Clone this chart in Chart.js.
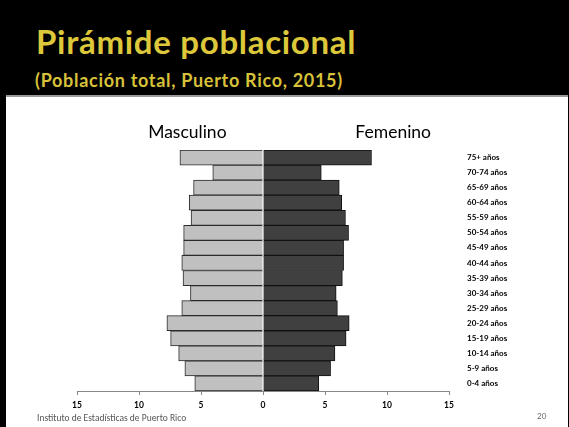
<!DOCTYPE html>
<html>
<head>
<meta charset="utf-8">
<script src="https://cdn.jsdelivr.net/npm/chart.js@4"></script>
<style>
  html, body { margin: 0; padding: 0; }
  body { width: 569px; height: 427px; background: #000; position: relative; overflow: hidden; font-family: Lato, sans-serif; }
  #title { position: absolute; left: 36px; top: 21px; font-size: 33px; letter-spacing: 0.7px; font-weight: bold; color: #dcc83a; line-height: 40px; white-space: nowrap; }
  #subtitle { position: absolute; left: 35px; top: 69px; font-size: 18px; letter-spacing: 0.7px; font-weight: bold; color: #d8c23a; line-height: 22px; white-space: nowrap; }
  #slide { position: absolute; left: 6px; top: 95px; width: 562px; height: 330px; background: #fff; border-top: 2px solid #9a9a9a; }
  #chartBox { position: absolute; left: 0; top: 0; width: 562px; height: 328px; }
  #footer { position: absolute; left: 31px; top: 315px; font-size: 9.5px; color: #555; font-family: Carlito, "Open Sans", sans-serif; }
  #page { position: absolute; left: 531px; top: 314px; font-size: 8px; color: #666; }
</style>
</head>
<body>
<div id="title">Pirámide poblacional</div>
<div id="subtitle">(Población total, Puerto Rico, 2015)</div>
<div id="slide">
  <div id="chartBox"><canvas id="myChart" width="562" height="328"></canvas></div>
  <div id="footer">Instituto de Estadísticas de Puerto Rico</div>
  <div id="page">20</div>
</div>
<script>
const ageGroups = ["75+ años", "70-74 años", "65-69 años", "60-64 años", "55-59 años", "50-54 años",
    "45-49 años", "40-44 años", "35-39 años", "30-34 años", "25-29 años", "20-24 años",
    "15-19 años", "10-14 años", "5-9 años", "0-4 años"];
const sexes = ["Masculino", "Femenino"];
// percent of total population
const male = [6.7, 4.05, 5.6, 5.95, 5.8, 6.4, 6.4, 6.55, 6.45, 5.85, 6.55, 7.75, 7.45, 6.8, 6.3, 5.5];
const female = [8.75, 4.7, 6.15, 6.35, 6.65, 6.9, 6.5, 6.5, 6.4, 5.9, 6.0, 6.95, 6.7, 5.8, 5.45, 4.5];
const xTicks = [-15, -10, -5, 0, 5, 10, 15];

window.onload = () => {
    const sideLabels = {
        id: "sideLabels",
        afterDraw(chart) {
            const ctx = chart.ctx;
            const x = chart.scales.x;
            ctx.save();
            ctx.font = "17.5px Lato";
            ctx.fillStyle = "#000";
            ctx.textAlign = "center";
            ctx.textBaseline = "middle";
            ctx.fillText(sexes[0], x.getPixelForValue(-6.1), 35);
            ctx.fillText(sexes[1], x.getPixelForValue(10.5), 35);
            ctx.restore();
        }
    };

    const data = {
        labels: ageGroups,
        datasets: [{
            label: sexes[0],
            data: male.map(v => -v),
            backgroundColor: "#c0c0c0",
            borderColor: "#2a2a2a",
            borderWidth: 1
        }, {
            label: sexes[1],
            data: female,
            backgroundColor: "#404040",
            borderColor: "#111",
            borderWidth: 1
        }]
    };

    const config = {
        type: "bar",
        data: data,
        options: {
            indexAxis: "y",
            responsive: false,
            animation: false,
            categoryPercentage: 1,
            barPercentage: 1,
            layout: { padding: { left: 71, right: 49, top: 53, bottom: 10 } },
            plugins: {
                legend: { display: false },
                tooltip: { enabled: false }
            },
            scales: {
                x: {
                    stacked: true,
                    min: -15,
                    max: 15,
                    afterBuildTicks: s => { s.ticks = xTicks.map(v => ({ value: v })); },
                    afterFit: s => { s.height = 24; },
                    grid: { drawOnChartArea: false, drawTicks: true, tickLength: 4, color: "#888" },
                    border: { color: "#888" },
                    ticks: {
                        padding: 5,
                        color: "#000",
                        font: { family: "Lato", size: 8.5, weight: "bold" },
                        callback: v => Math.abs(v)
                    }
                },
                y: {
                    stacked: true,
                    position: "right",
                    afterFit: s => { s.width = 70; },
                    grid: { display: false },
                    border: { display: false },
                    ticks: {
                        padding: 10,
                        color: "#000",
                        font: { family: "Lato", size: 8, weight: "bold" }
                    }
                }
            }
        },
        plugins: [sideLabels]
    };

    const ctx = document.getElementById("myChart").getContext("2d");
    new Chart(ctx, config);
};
</script>
</body>
</html>
